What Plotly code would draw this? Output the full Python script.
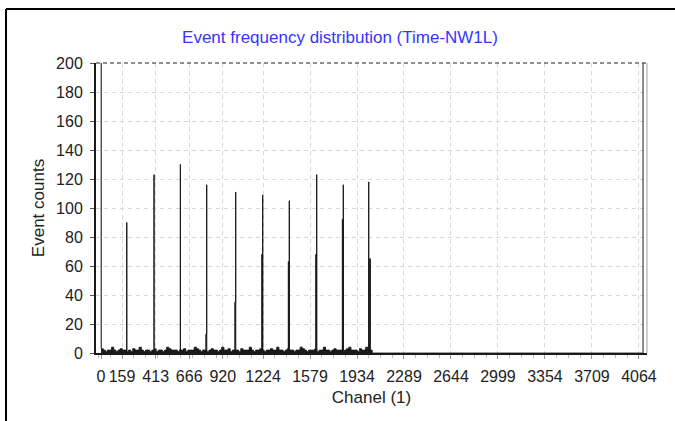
import numpy as np
import plotly.graph_objects as go

# ---- data ----
n_channels = 4096
block_width = 16
# baseline noise level per 16-channel block (channels 0..2047)
noise_blocks = [
    3, 2, 1, 2, 2, 4, 2, 1, 2, 3, 2, 2,
    1, 2, 1, 3, 2, 2, 4, 2, 1, 2, 2, 1,
    2, 3, 1, 2, 2, 1, 2, 4, 3, 2, 2, 2,
    1, 2, 2, 3, 1, 2, 2, 2, 4, 3, 2, 1,
    2, 2, 1, 2, 3, 2, 2, 1, 2, 4, 2, 2,
    3, 1, 2, 2, 2, 1, 3, 2, 2, 2, 4, 2,
    1, 2, 2, 3, 2, 1, 2, 2, 3, 2, 2, 4,
    2, 2, 1, 2, 3, 2, 2, 1, 2, 2, 4, 3,
    2, 1, 2, 2, 2, 3, 1, 2, 2, 4, 2, 2,
    1, 2, 3, 2, 2, 2, 1, 2, 3, 4, 2, 2,
    2, 1, 3, 2, 2, 4, 2, 2,
]
peak_channels = [194, 400, 599, 798, 1017, 1221, 1422, 1629, 1830, 2022]
peak_counts = [90, 123, 130, 116, 111, 109, 105, 123, 116, 118]
shoulder_channels = [792, 1011, 1214, 1415, 1622, 1823, 2029]
shoulder_counts = [13, 35, 68, 63, 68, 92, 65]
edge_channels = [0, 4095]
edge_counts = [1800, 1800]

tick_vals = [0, 159, 413, 666, 920, 1224, 1579, 1934, 2289, 2644, 2999, 3354, 3709, 4064]
tick_text = [str(v) for v in tick_vals]
y_ticks = list(range(0, 201, 20))

# ---- build histogram ----
counts = np.zeros(n_channels)
for i, v in enumerate(noise_blocks):
    counts[i * block_width:(i + 1) * block_width] = v
for c, h in zip(shoulder_channels, shoulder_counts):
    counts[c:c + 6] = h
for c, h in zip(peak_channels, peak_counts):
    counts[c] = h
for c, h in zip(edge_channels, edge_counts):
    counts[c] = h
channels = np.arange(n_channels)

fig = go.Figure()
fig.add_trace(go.Scatter(
    x=channels, y=counts, mode="lines",
    line=dict(color="#1a1a1a", width=1, shape="hv"),
    fill="tozeroy", fillcolor="#1a1a1a",
    hoverinfo="skip", showlegend=False,
))

font = "Liberation Sans, Arial, sans-serif"
L, R, T, B = 96, 28, 63, 68
pw = 675 - L - R
ph = 421 - T - B

fig.update_layout(
    width=675, height=421,
    margin=dict(l=L, r=R, t=T, b=B),
    paper_bgcolor="white", plot_bgcolor="white",
    font=dict(family=font, size=16, color="#222222"),
    title=dict(text="Event frequency distribution (Time-NW1L)",
               x=340 / 675, xref="container", xanchor="center",
               y=1 - 37 / 421, yanchor="middle",
               font=dict(family=font, size=17, color="#3535ff")),
    xaxis=dict(
        range=[-38, 4125],
        tickmode="array", tickvals=tick_vals, ticktext=tick_text,
        tickangle=0, ticks="outside", ticklen=4, tickcolor="#999999",
        ticklabelstandoff=4,
        showgrid=True, gridcolor="#d6d6d6", griddash="4px,4px", gridwidth=1,
        showline=True, linecolor="#1a1a1a", linewidth=2,
        zeroline=False,
        minor=dict(ticks="outside", ticklen=3, tickcolor="#bbbbbb",
                   dtick=88.75, tick0=70.25, showgrid=False),
        title=dict(text="Chanel (1)", standoff=7, font=dict(size=17)),
        tickfont=dict(size=16),
    ),
    yaxis=dict(
        range=[0, 200],
        tickmode="array", tickvals=y_ticks,
        ticks="outside", ticklen=4, tickcolor="#555555",
        ticklabelstandoff=4,
        showgrid=True, gridcolor="#d6d6d6", griddash="4px,4px", gridwidth=1,
        showline=True, linecolor="#1a1a1a", linewidth=2,
        zeroline=False,
        title=dict(text="Event counts", standoff=7, font=dict(size=17)),
        tickfont=dict(size=16),
    ),
    shapes=[
        # dashed top border
        dict(type="line", xref="paper", yref="paper", x0=0, x1=1, y0=1, y1=1,
             line=dict(color="#222222", width=1, dash="4px,3px")),
        # right border
        dict(type="line", xref="paper", yref="paper", x0=1, x1=1, y0=0, y1=1,
             line=dict(color="#a0a0a0", width=1)),
        # outer frame (top and left)
        dict(type="line", xref="paper", yref="paper",
             x0=(6 - L) / pw, x1=(700 - L) / pw,
             y0=(421 - B - 9) / ph, y1=(421 - B - 9) / ph,
             line=dict(color="black", width=2)),
        dict(type="line", xref="paper", yref="paper",
             x0=(6 - L) / pw, x1=(6 - L) / pw,
             y0=(421 - B - 9) / ph, y1=(421 - B - 440) / ph,
             line=dict(color="black", width=2)),
    ],
)

fig.write_html("out.html")
